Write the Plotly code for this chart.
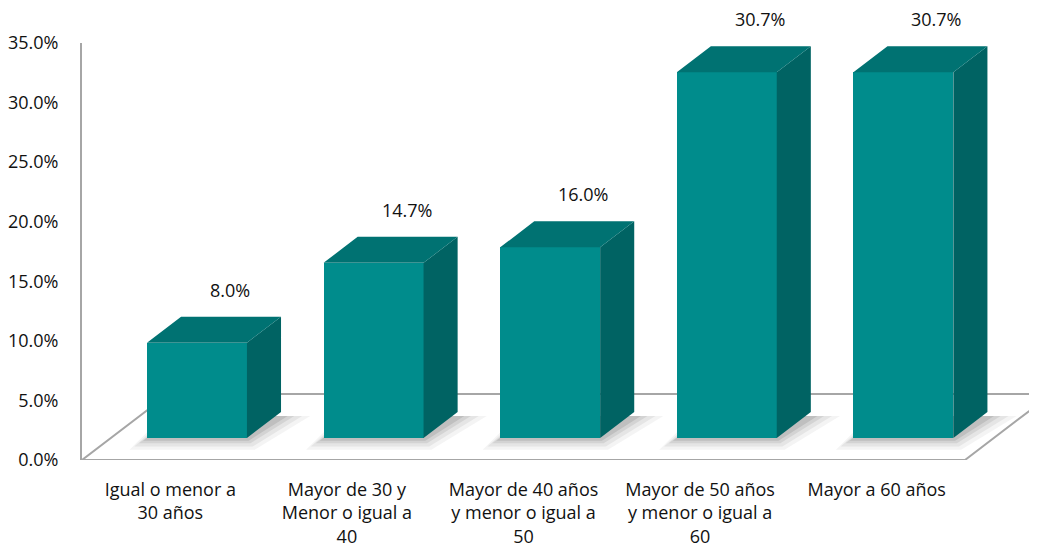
import plotly.graph_objects as go

categories = ["Igual o menor a<br>30 años",
              "Mayor de 30 y<br>Menor o igual a<br>40",
              "Mayor de 40 años<br>y menor o igual a<br>50",
              "Mayor de 50 años<br>y menor o igual a<br>60",
              "Mayor a 60 años"]
values = [8.0, 14.7, 16.0, 30.7, 30.7]
tick_vals = [0, 5, 10, 15, 20, 25, 30, 35]
tick_text = ["0.0%", "5.0%", "10.0%", "15.0%", "20.0%", "25.0%", "30.0%", "35.0%"]

# style / geometry constants (in axis units)
FRONT = "#008C8C"
TOP = "#007272"
SIDE = "#006363"
GRID = "#A6A6A6"
FONT = "Open Sans"
TXT = "#111111"

n = len(values)
bar_w = 0.566
bar_off_x = 0.151      # bar front face shift from the front floor edge
bar_base = 1.85        # bar front bottom above floor front edge
dep_x = 0.193          # bar depth (x)
dep_y = 2.18           # bar depth (y)
floor_dx = 0.49
floor_dy = 5.54
XRANGE = [-0.5, -0.5 + 955 / 176.6]
YRANGE = [0, 35]

xs = [i + bar_off_x for i in range(n)]

fig = go.Figure()

# floor outline (base subplot, behind bars)
fx = [-0.5, n - 0.5, n - 0.5 + floor_dx, -0.5 + floor_dx, -0.5]
fy = [0, 0, floor_dy, floor_dy, 0]
fig.add_trace(go.Scatter(x=fx, y=fy, mode="lines", line=dict(color=GRID, width=2),
                         hoverinfo="skip", showlegend=False))

# soft shadows under bars
for grow, op in [(0.11, 0.06), (0.08, 0.08), (0.05, 0.11), (0.025, 0.14)]:
    sx, sy = [], []
    for xc in xs:
        x0 = xc - bar_w / 2 - grow * 0.9
        x1 = xc + bar_w / 2 + grow * 0.4
        b = bar_base - grow * 9
        top = bar_base + dep_y * 0.85
        sx += [x0, x1, x1 + dep_x + grow * 1.1, x0 + dep_x, x0, None]
        sy += [b, b, top, top, b, None]
    fig.add_trace(go.Scatter(x=sx, y=sy, mode="lines", fill="toself",
                             fillcolor=f"rgba(70,70,70,{op})", line=dict(width=0),
                             hoverinfo="skip", showlegend=False))

# front faces (overlay subplot, on top of floor)
fig.add_trace(go.Bar(x=xs, y=values, base=[bar_base] * n, width=bar_w,
                     marker=dict(color=FRONT, line=dict(width=0)),
                     xaxis="x2", yaxis="y2",
                     hoverinfo="skip", showlegend=False))

# side and top faces
side_x, side_y, top_x, top_y = [], [], [], []
for xc, v in zip(xs, values):
    x0 = xc - bar_w / 2
    x1 = xc + bar_w / 2
    b = bar_base
    t = bar_base + v
    side_x += [x1, x1 + dep_x, x1 + dep_x, x1, x1, None]
    side_y += [b, b + dep_y, t + dep_y, t, b, None]
    top_x += [x0, x1, x1 + dep_x, x0 + dep_x, x0, None]
    top_y += [t, t, t + dep_y, t + dep_y, t, None]
fig.add_trace(go.Scatter(x=side_x, y=side_y, mode="lines", fill="toself",
                         fillcolor=SIDE, line=dict(width=0), xaxis="x2", yaxis="y2",
                         hoverinfo="skip", showlegend=False))
fig.add_trace(go.Scatter(x=top_x, y=top_y, mode="lines", fill="toself",
                         fillcolor=TOP, line=dict(width=0), xaxis="x2", yaxis="y2",
                         hoverinfo="skip", showlegend=False))

# data labels
for xc, v in zip(xs, values):
    fig.add_annotation(x=xc, y=bar_base + v + dep_y, xref="x2", yref="y2",
                       text=f"{v:.1f}%", showarrow=False, xshift=33, yshift=27,
                       font=dict(family=FONT, size=18, color=TXT))

fig.update_layout(
    width=1037, height=543,
    margin=dict(l=74, r=8, t=35, b=91),
    plot_bgcolor="white", paper_bgcolor="white",
    bargap=0,
    xaxis=dict(range=XRANGE, tickmode="array", automargin=False,
               tickvals=list(range(n)), ticktext=categories,
               showgrid=False, zeroline=False, showline=False, ticks="",
               ticklabelstandoff=17,
               tickfont=dict(family=FONT, size=18, color=TXT)),
    yaxis=dict(range=YRANGE, tickmode="array", tickvals=tick_vals, ticktext=tick_text,
               automargin=False,
               showgrid=False, zeroline=False, showline=True, linecolor=GRID, linewidth=2,
               ticks="", ticklabelstandoff=18,
               tickfont=dict(family=FONT, size=18, color=TXT)),
    xaxis2=dict(range=XRANGE, overlaying="x", visible=False, automargin=False),
    yaxis2=dict(range=YRANGE, overlaying="y", visible=False, automargin=False),
)

fig.write_html("out.html")
